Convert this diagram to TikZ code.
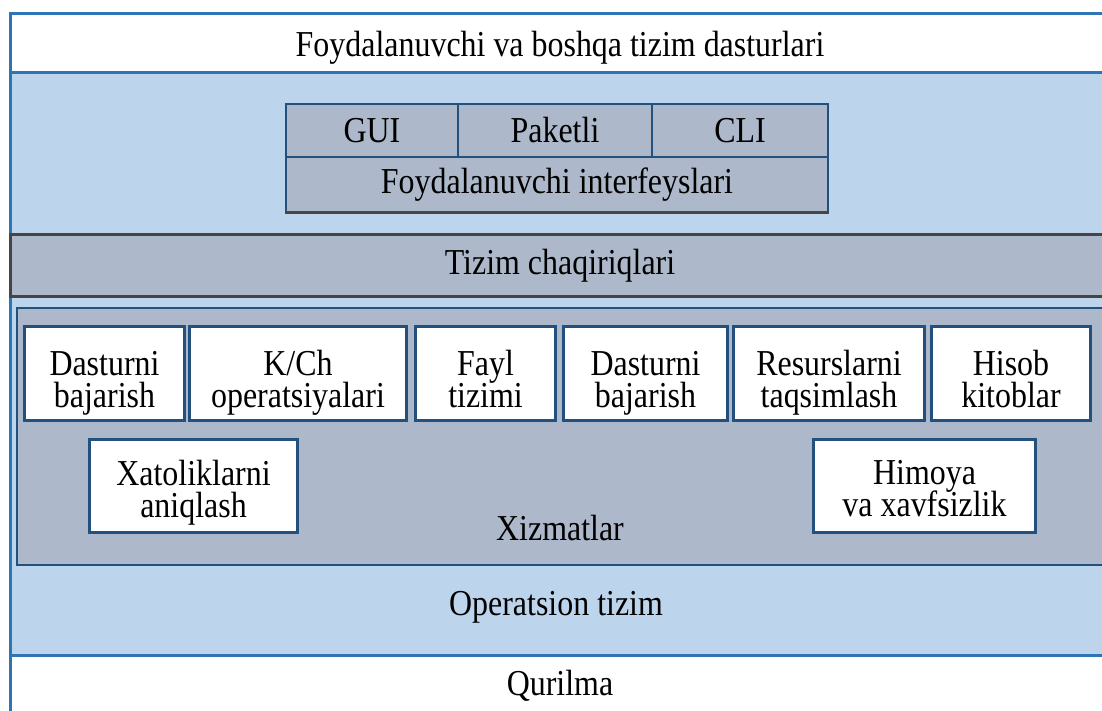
\documentclass[tikz,border=0pt]{standalone}
\usepackage{fontspec}
\setmainfont{Liberation Serif}[FakeStretch=0.875]
\usetikzlibrary{calc}

\definecolor{frameblue}{HTML}{2E75B6}
\definecolor{layerblue}{HTML}{BDD5EC}
\definecolor{slate}{HTML}{ADB9CA}
\definecolor{navy}{HTML}{24507E}
\definecolor{charcoal}{HTML}{454545}

\tikzset{
  x=1pt, y=-1pt,
  every node/.style={font=\fontsize{36.5}{32}\selectfont, inner sep=0pt},
  layer/.style={draw=frameblue, line width=3pt},
  cell/.style={draw=navy, fill=slate, line width=2.5pt, minimum height=53},
  svc/.style={fill=white},
  svcline/.style={draw=navy, line width=2.8pt},
}

% service box #1 centred at #2, size #3 x #4; the two-line label #5 is
% clipped by the box, its last baseline lies #6 below the box centre
\newcommand{\svcbox}[6]{%
  \node[svc, minimum width=#3, minimum height=#4] (#1) at (#2) {};
  \begin{scope}
    \clip (#1.south west) rectangle (#1.north east);
    \node[align=center, anchor=base] (#1-text) at ($(#1.center)+(0,#6)$) {#5};
  \end{scope}
  \draw[svcline] (#1.south west) rectangle (#1.north east);}

\begin{document}
\lineskiplimit=-100pt
\begin{tikzpicture}
\useasboundingbox (0,0) rectangle (1102,711);

% layers: user programs, operating system, hardware
\node[layer, fill=white, minimum width=1100, minimum height=59,
      text height=26pt, text depth=0pt] (users) at (560,43.5)
  {Foydalanuvchi va boshqa tizim dasturlari};
\node[layer, fill=layerblue, minimum width=1100, minimum height=582] (os) at (560,364) {};
\node[layer, fill=white, minimum width=1100, minimum height=62] (hw) at (560,686) {Qurilma};
\node (oslabel) at (556,607) {Operatsion tizim};

% user interfaces
\node[cell, minimum width=172] (gui) at (372,130.5) {GUI};
\node[cell, minimum width=194] (batch) at (555,130.5) {Paketli};
\node[cell, minimum width=176] (cli) at (740,130.5) {CLI};
\node[cell, minimum width=542, minimum height=55] (ui) at (557,184.5) {Foydalanuvchi interfeyslari};
\draw[charcoal, line width=2.5pt] (ui.south west) -- (ui.south east);

% system calls
\node[draw=charcoal, fill=slate, line width=3pt, minimum width=1100, minimum height=61]
  (calls) at (560,265.5) {Tizim chaqiriqlari};

% services
\node[draw=navy, fill=slate, line width=2.5pt, minimum width=1093, minimum height=257]
  (services) at (563.5,436.5) {};
\node (svclabel) at (560,528) {Xizmatlar};

\svcbox{s1}{104.5,373.5}{159}{93}{Dasturni\\bajarish}{34}
\svcbox{s2}{298,373.5}{216}{93}{K/Ch\\operatsiyalari}{34}
\svcbox{s3}{485.5,373.5}{139}{93}{Fayl\\tizimi}{34}
\svcbox{s4}{645.5,373.5}{163}{93}{Dasturni\\bajarish}{34}
\svcbox{s5}{829,373.5}{190}{93}{Resurslarni\\taqsimlash}{34}
\svcbox{s6}{1011,373.5}{158}{93}{Hisob\\kitoblar}{34}
\svcbox{s7}{193.5,486}{207}{92}{Xatoliklarni\\aniqlash}{31}
\svcbox{s8}{924.5,486}{221}{92}{Himoya\\va xavfsizlik}{30}
\end{tikzpicture}
\end{document}
